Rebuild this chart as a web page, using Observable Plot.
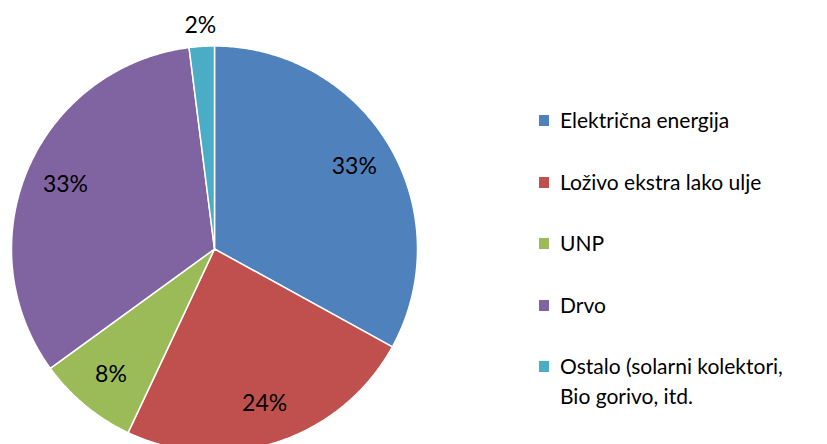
<!DOCTYPE html>
<html>
<head>
<meta charset="utf-8">
<script src="https://cdn.jsdelivr.net/npm/d3@7"></script>
<script src="https://cdn.jsdelivr.net/npm/@observablehq/plot@0.6"></script>
<style>
  html, body { margin: 0; padding: 0; background: #fff; }
  #wrap { position: relative; width: 827px; height: 444px; overflow: hidden; font-family: Lato, "Open Sans", sans-serif; }
  #legend { position: absolute; left: 539px; top: 0; }
  .item { position: absolute; left: 0; white-space: nowrap; font-size: 21px; line-height: 30px; color: #000; }
  .sw { position: absolute; left: 0; top: 10px; width: 10px; height: 11px; }
  .lbl { position: absolute; left: 21px; top: 0; }
</style>
</head>
<body>
<div id="wrap"><div id="legend"></div></div>
<script>
// Data
const categories = ["Električna energija", "Loživo ekstra lako ulje", "UNP", "Drvo", "Ostalo (solarni kolektori,\nBio gorivo, itd."];
const values = [33, 24, 8, 33, 2];
const colors = ["#4F81BD", "#C0504D", "#9BBB59", "#8064A2", "#4BACC6"];

// Layout
const W = 827, H = 444;
const cx = 214, cy = 248.5, R = 203;

const total = d3.sum(values);
const pie = d3.pie().sort(null).value(d => d.value)(values.map((v, i) => ({name: categories[i], value: v, color: colors[i]})));

// Polygons in unit-circle data space (angle measured clockwise from top)
const poly = [];
pie.forEach((s, i) => {
  const n = Math.max(4, Math.ceil((s.endAngle - s.startAngle) / 0.01));
  poly.push({i, x: 0, y: 0});
  for (let k = 0; k <= n; k++) {
    const a = s.startAngle + (s.endAngle - s.startAngle) * k / n;
    poly.push({i, x: Math.sin(a), y: Math.cos(a)});
  }
});

const labels = pie.map((s, i) => {
  const a = (s.startAngle + s.endAngle) / 2;
  const pct = s.data.value / total * 100;
  const r = pct < 5 ? 1.105 : 0.8;
  return {x: r * Math.sin(a), y: r * Math.cos(a), text: Math.round(pct) + "%"};
});

const chart = Plot.plot({
  width: W,
  height: H,
  marginLeft: cx - R,
  marginRight: W - (cx + R),
  marginTop: cy - R,
  marginBottom: 0,
  x: {domain: [-1, 1], axis: null},
  y: {domain: [-(H - cy) / R, 1], axis: null},
  style: {background: "transparent", overflow: "visible", fontFamily: "Lato, 'Open Sans', sans-serif"},
  marks: [
    Plot.line(poly, {x: "x", y: "y", z: "i", fill: d => colors[d.i], stroke: "white", strokeWidth: 1.5, curve: "linear-closed", strokeLinejoin: "round"}),
    Plot.text(labels, {x: "x", y: "y", text: "text", fontSize: 23, fill: "black"})
  ]
});
chart.style.position = "absolute";
chart.style.left = "0px";
chart.style.top = "0px";
document.getElementById("wrap").prepend(chart);

// Legend
const legend = document.getElementById("legend");
categories.forEach((c, i) => {
  const it = document.createElement("div");
  it.className = "item";
  it.style.top = (105 + i * 61.5) + "px";
  const sw = document.createElement("div");
  sw.className = "sw";
  sw.style.background = colors[i];
  const lb = document.createElement("div");
  lb.className = "lbl";
  lb.innerHTML = c.split("\n").join("<br>");
  it.appendChild(sw);
  it.appendChild(lb);
  legend.appendChild(it);
});
</script>
</body>
</html>
